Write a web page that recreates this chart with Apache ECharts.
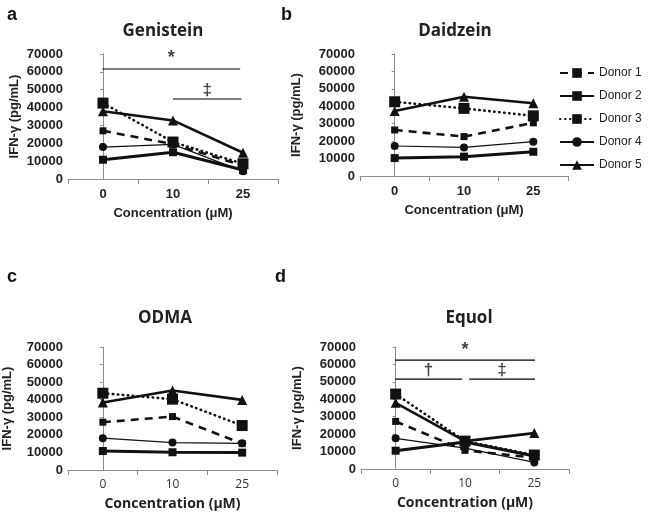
<!DOCTYPE html>
<html>
<head>
<meta charset="utf-8">
<script src="https://cdn.jsdelivr.net/npm/echarts@6/dist/echarts.min.js"></script>
<style>
html,body{margin:0;padding:0;background:#fff;}
#chart{width:660px;height:512px;}
</style>
</head>
<body>
<div id="chart"></div>
<script>
// ---- data ----
const categories = ['0', '10', '25'];
const donorNames = ['Donor 1', 'Donor 2', 'Donor 3', 'Donor 4', 'Donor 5'];
const yTicks = [0, 10000, 20000, 30000, 40000, 50000, 60000, 70000];

// rows = donors 1..5, columns = 0, 10, 25 µM
const genistein = [
  [27000, 19500, 7500],
  [10800, 15000, 5000],
  [42500, 20700, 8500],
  [17900, 19400, 4300],
  [37900, 32800, 14700]
];
const daidzein = [
  [26400, 22600, 30500],
  [10300, 11100, 13900],
  [42600, 38800, 34500],
  [17200, 16400, 19700],
  [37300, 45500, 41700]
];
const odma = [
  [27200, 30400, 15000],
  [10800, 10100, 9900],
  [43700, 40300, 25300],
  [18100, 15600, 15200],
  [38400, 45200, 39900]
];
const equol = [
  [27300, 10700, 6500],
  [10500, 15500, 7500],
  [43000, 16000, 8000],
  [17600, 12000, 3800],
  [38000, 16000, 20600]
];

// significance bars: x positions in category-index units, level in pg/mL
const genisteinSig = [
  { mark: '*', from: -0.01, to: 1.96, level: 61600 },
  { mark: '‡', from: 1.0, to: 1.98, level: 44800 }
];
const daidzeinSig = [];
const odmaSig = [];
const equolSig = [
  { mark: '*', from: -0.01, to: 2.01, level: 62500 },
  { mark: '†', from: -0.01, to: 0.96, level: 51600 },
  { mark: '‡', from: 1.06, to: 2.01, level: 51600 }
];

const panelTitles = ['Genistein', 'Daidzein', 'ODMA', 'Equol'];
const panelLetters = ['a', 'b', 'c', 'd'];

// ---- styles ----
const ink = '#111';
const donorStyles = [
  { symbol: 'rect', symbolSize: 7, lineStyle: { width: 2.6, type: [8, 6], color: ink } },
  { symbol: 'rect', symbolSize: 8, lineStyle: { width: 3, type: 'solid', color: ink } },
  { symbol: 'rect', symbolSize: 11, lineStyle: { width: 2.6, type: [0.5, 4.5], color: ink, cap: 'round' } },
  { symbol: 'circle', symbolSize: 8, lineStyle: { width: 1.2, type: 'solid', color: ink } },
  { symbol: 'triangle', symbolSize: 10, lineStyle: { width: 2.6, type: 'solid', color: ink } }
];

const grids = [
  { left: 68, top: 54, width: 210, height: 125 },
  { left: 360, top: 54, width: 208, height: 122 },
  { left: 67, top: 347, width: 210, height: 123 },
  { left: 361, top: 347, width: 208, height: 122 }
];
const yNameGaps = [47, 57, 54, 57];
const boldTicks = [true, true, false, false];
const panelData = [genistein, daidzein, odma, equol];
const panelSig = [genisteinSig, daidzeinSig, odmaSig, equolSig];

const titlePos = [
  { x: 158, y: 18 }, { x: 450, y: 18 }, { x: 160, y: 305 }, { x: 464, y: 305 }
];
const letterPos = [
  { x: 2, y: 1 }, { x: 276, y: 1 }, { x: 2, y: 263 }, { x: 270, y: 263 }
];

const axisGray = '#8c8c8c';
const xAxes = [], yAxes = [], series = [], titles = [];

grids.forEach((g, i) => {
  const bold = boldTicks[i];
  xAxes.push({
    type: 'category', gridIndex: i, data: categories, boundaryGap: true,
    axisLine: { lineStyle: { color: axisGray, width: 1 } },
    axisTick: { show: true, length: 5, lineStyle: { color: axisGray } },
    axisLabel: bold
      ? { fontFamily: 'Liberation Sans', fontWeight: 'bold', fontSize: 13, color: '#222', margin: 9 }
      : { fontFamily: 'Open Sans', fontWeight: 'normal', fontSize: 12, color: '#333', margin: 9 },
    name: 'Concentration (μM)', nameLocation: 'middle',
    nameGap: bold ? 28 : 27,
    nameTextStyle: bold
      ? { fontFamily: 'Liberation Sans', fontWeight: 'bold', fontSize: 13, color: '#222' }
      : { fontFamily: 'Open Sans', fontWeight: 'bold', fontSize: 14, color: '#222' }
  });
  xAxes.push({
    type: 'value', gridIndex: i, min: -0.5, max: 2.5, show: false
  });
  yAxes.push({
    type: 'value', gridIndex: i, min: yTicks[0], max: yTicks[yTicks.length - 1],
    interval: yTicks[1] - yTicks[0],
    splitLine: { show: false },
    axisLine: { show: true, lineStyle: { color: axisGray, width: 1 } },
    axisTick: { show: true, length: 3, lineStyle: { color: axisGray } },
    axisLabel: { fontFamily: 'Liberation Sans', fontWeight: 'bold', fontSize: 13, color: '#222', margin: 5,
      formatter: v => String(v) },
    name: 'IFN-γ (pg/mL)', nameLocation: 'middle', nameGap: yNameGaps[i],
    nameTextStyle: { fontFamily: 'Liberation Sans', fontWeight: 'bold', fontSize: 13, color: '#222' }
  });

  panelData[i].forEach((vals, d) => {
    const st = donorStyles[d];
    series.push({
      type: 'line', name: donorNames[d], xAxisIndex: 2 * i, yAxisIndex: i,
      data: vals, symbol: st.symbol, symbolSize: st.symbolSize,
      itemStyle: { color: ink, borderWidth: 0 },
      lineStyle: st.lineStyle, z: 3 + (5 - d)
    });
  });

  panelSig[i].forEach(s => {
    series.push({
      type: 'line', xAxisIndex: 2 * i + 1, yAxisIndex: i,
      symbol: 'none', silent: true,
      lineStyle: { color: '#000', width: 1.2 },
      data: [[s.from, s.level], [s.to, s.level]]
    });
    series.push({
      type: 'scatter', xAxisIndex: 2 * i + 1, yAxisIndex: i,
      symbolSize: 1, silent: true,
      itemStyle: { color: 'rgba(0,0,0,0)' },
      label: { show: true, formatter: s.mark, position: 'top', distance: s.mark === '*' ? 1 : 0,
        fontFamily: 'Liberation Sans', fontWeight: 'bold', fontSize: s.mark === '*' ? 18 : 17, color: ink },
      data: [[(s.from + s.to) / 2, s.level]]
    });
  });

  titles.push({
    text: panelTitles[i], left: titlePos[i].x, top: titlePos[i].y, textAlign: 'center',
    textStyle: { fontFamily: 'Open Sans', fontWeight: 'bold', fontSize: 17, color: '#222' }
  });
  titles.push({
    text: panelLetters[i], left: letterPos[i].x, top: letterPos[i].y,
    textStyle: { fontFamily: 'Liberation Sans', fontWeight: 'bold', fontSize: 18, color: '#111' }
  });
});

const option = {
  animation: false,
  backgroundColor: '#fff',
  title: titles,
  grid: grids,
  xAxis: xAxes,
  yAxis: yAxes,
  legend: {
    data: donorNames, orient: 'vertical', left: 554, top: 62,
    itemWidth: 34, itemHeight: 12, itemGap: 11,
    textStyle: { fontFamily: 'Liberation Sans', fontSize: 12, color: '#222' }
  },
  series: series
};

const chart = echarts.init(document.getElementById('chart'), null, { renderer: 'canvas' });
chart.setOption(option);
</script>
</body>
</html>
